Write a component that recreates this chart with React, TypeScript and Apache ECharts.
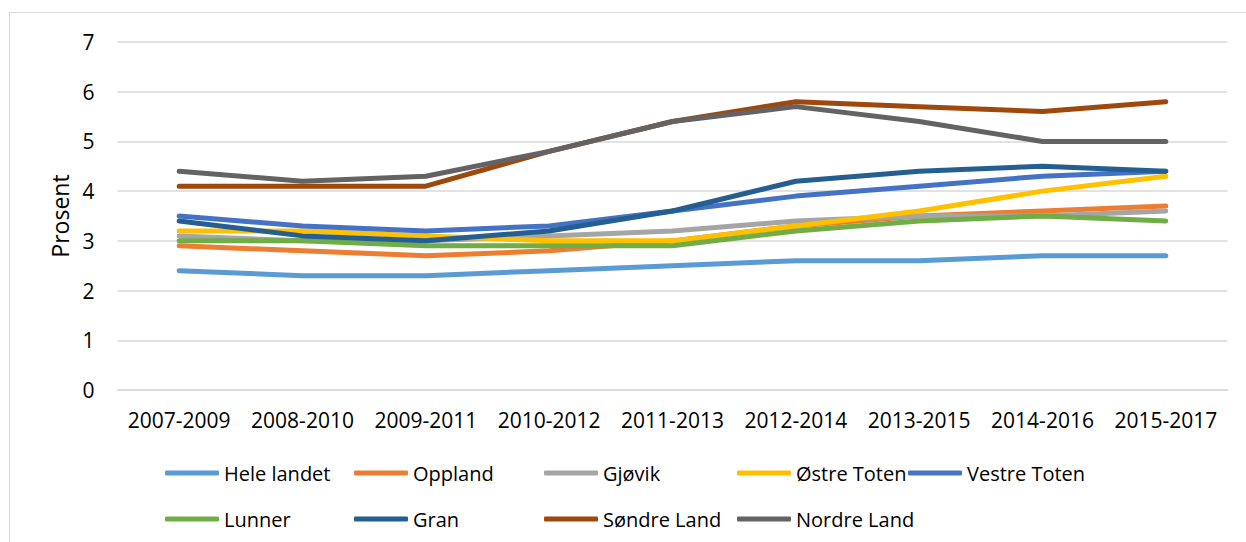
import React, { useEffect, useRef } from "react";
import * as echarts from "echarts";

const categories = [
  "2007-2009", "2008-2010", "2009-2011", "2010-2012", "2011-2013",
  "2012-2014", "2013-2015", "2014-2016", "2015-2017",
];
const heleLandet = [2.4, 2.3, 2.3, 2.4, 2.5, 2.6, 2.6, 2.7, 2.7];
const oppland = [2.9, 2.8, 2.7, 2.8, 3.0, 3.3, 3.5, 3.6, 3.7];
const gjovik = [3.1, 3.0, 3.0, 3.1, 3.2, 3.4, 3.5, 3.5, 3.6];
const ostreToten = [3.2, 3.2, 3.1, 3.0, 3.0, 3.3, 3.6, 4.0, 4.3];
const vestreToten = [3.5, 3.3, 3.2, 3.3, 3.6, 3.9, 4.1, 4.3, 4.4];
const lunner = [3.0, 3.0, 2.9, 2.9, 2.9, 3.2, 3.4, 3.5, 3.4];
const gran = [3.4, 3.1, 3.0, 3.2, 3.6, 4.2, 4.4, 4.5, 4.4];
const sondreLand = [4.1, 4.1, 4.1, 4.8, 5.4, 5.8, 5.7, 5.6, 5.8];
const nordreLand = [4.4, 4.2, 4.3, 4.8, 5.4, 5.7, 5.4, 5.0, 5.0];

const seriesNames = [
  "Hele landet", "Oppland", "Gjøvik", "Østre Toten", "Vestre Toten",
  "Lunner", "Gran", "Søndre Land", "Nordre Land",
];
const seriesData = [
  heleLandet, oppland, gjovik, ostreToten, vestreToten,
  lunner, gran, sondreLand, nordreLand,
];
const colors = [
  "#5B9BD5", "#ED7D31", "#A5A5A5", "#FFC000", "#4472C4",
  "#70AD47", "#255E91", "#9E480E", "#636363",
];
const yTicks = [0, 1, 2, 3, 4, 5, 6, 7];
const yAxisTitle = "Prosent";

// legend positions (layout only)
const legendPos = [
  [165, 0], [354, 0], [544, 0], [737, 0], [908, 0],
  [165, 1], [354, 1], [544, 1], [737, 1],
];

const FONT = "'Open Sans', 'Noto Sans', sans-serif";

export default function App() {
  const ref = useRef<HTMLDivElement>(null);
  useEffect(() => {
    if (!ref.current) return;
    const chart = echarts.init(ref.current, undefined, { renderer: "svg" });
    const rowTop = [463, 509];
    chart.setOption({
      animation: false,
      backgroundColor: "#ffffff",
      textStyle: { fontFamily: FONT },
      graphic: [
        {
          type: "rect",
          shape: { x: 9.5, y: 12.5, width: 1400, height: 700 },
          style: { fill: "none", stroke: "#D9D9D9", lineWidth: 1 },
          silent: true,
        },
      ],
      grid: { left: 117.5, right: 18.5, top: 42, bottom: 152, containLabel: false },
      xAxis: {
        type: "category",
        data: categories,
        boundaryGap: true,
        axisLine: { show: true, lineStyle: { color: "#D9D9D9", width: 1.5 } },
        axisTick: { show: false },
        axisLabel: { color: "#000000", fontSize: 21, fontFamily: FONT, margin: 19, interval: 0 },
      },
      yAxis: {
        type: "value",
        min: yTicks[0],
        max: yTicks[yTicks.length - 1],
        interval: 1,
        name: yAxisTitle,
        nameLocation: "middle",
        nameGap: 45,
        nameRotate: 90,
        nameTextStyle: { color: "#000000", fontSize: 23, fontFamily: FONT },
        axisLine: { show: false },
        axisTick: { show: false },
        axisLabel: { color: "#000000", fontSize: 21, fontFamily: FONT, margin: 23 },
        splitLine: { lineStyle: { color: "#D9D9D9", width: 1.5 } },
      },
      legend: seriesNames.map((name, i) => ({
        data: [name],
        left: legendPos[i][0],
        top: rowTop[legendPos[i][1]],
        padding: 0,
        itemWidth: 54,
        itemHeight: 5,
        icon: "roundRect",
        textStyle: { color: "#000000", fontSize: 20, fontFamily: FONT },
        selectedMode: false,
      })),
      series: seriesNames.map((name, i) => ({
        name,
        type: "line",
        data: seriesData[i],
        symbol: "none",
        color: colors[i],
        lineStyle: { width: 5, color: colors[i], cap: "round", join: "round" },
        itemStyle: { color: colors[i] },
      })),
    });
    return () => chart.dispose();
  }, []);
  return (
    <div
      ref={ref}
      style={{ position: "fixed", left: 0, top: 0, width: 1246, height: 542 }}
    />
  );
}
